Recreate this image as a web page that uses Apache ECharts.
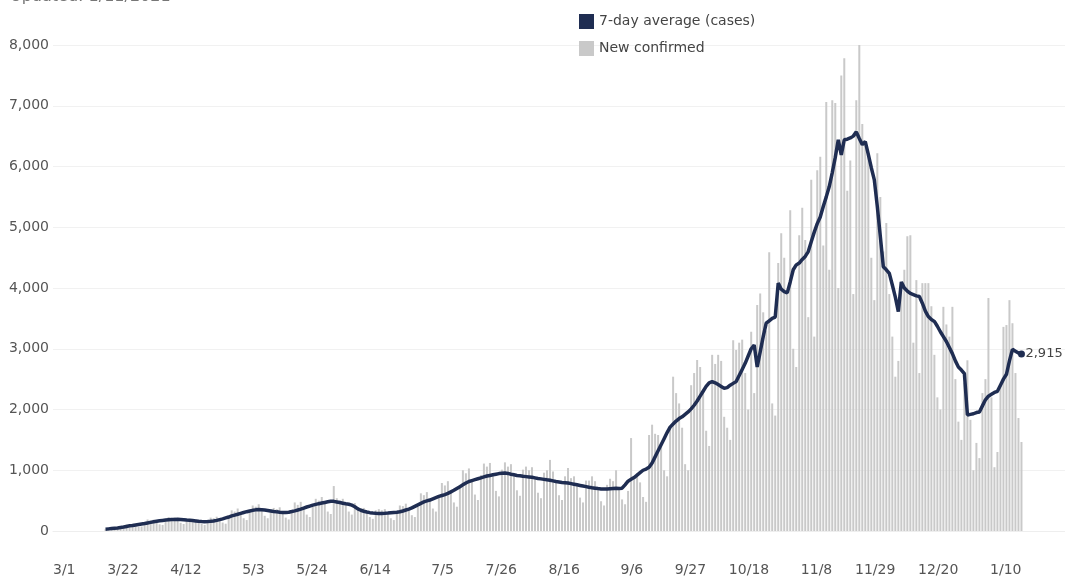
<!DOCTYPE html>
<html>
<head>
<meta charset="utf-8">
<script src="https://cdn.jsdelivr.net/npm/echarts@6/dist/echarts.min.js"></script>
<style>html,body{margin:0;padding:0;background:#fff}#c{width:1065px;height:580px}</style>
</head>
<body>
<div id="c"></div>
<script>
// Axis: daily categories from 2/23/2020; data starts 3/11/2020 and ends 1/10/2021
const axisStart = [2020, 1, 23];
const axisDays = 337;
const dataStartOffset = 17; // 3/11/2020
const firstLabelOffset = 7; // 3/1/2020
const labelEvery = 21;
const yTicks = [0, 1000, 2000, 3000, 4000, 5000, 6000, 7000, 8000];
const updatedText = 'Updated: 1/11/2021';
const lineName = '7-day average (cases)';
const barName = 'New confirmed';

const sevenDayAvg = [
  30,35,40,45,50,58,65,
  75,85,92,100,108,115,122,
  132,142,152,160,168,174,180,
  184,188,190,192,190,186,180,
  176,172,166,160,156,154,156,
  160,166,175,188,200,215,230,
  248,262,275,290,305,318,330,
  340,348,352,350,345,338,330,
  322,315,310,306,305,310,320,
  332,345,360,378,395,410,425,
  438,450,460,470,480,490,488,
  478,468,458,448,440,425,400,
  365,342,325,312,302,296,292,
  290,290,292,295,300,305,310,
  318,330,345,360,380,405,430,
  455,478,495,510,530,550,570,
  585,600,620,645,670,700,730,
  760,790,815,830,845,860,875,
  890,905,915,925,935,945,950,
  955,948,935,925,915,908,900,
  895,890,885,875,865,858,850,
  842,835,825,815,808,800,795,
  790,780,770,760,750,740,730,
  720,712,705,698,692,690,690,
  695,700,702,700,705,760,820,
  850,880,920,960,1000,1020,1050,
  1120,1220,1320,1420,1520,1620,1710,
  1760,1810,1850,1880,1920,1960,2010,
  2070,2140,2220,2300,2380,2440,2460,
  2440,2410,2380,2350,2360,2400,2430,
  2460,2560,2660,2760,2880,3000,3060,
  2700,2950,3200,3420,3460,3500,3520,
  4080,3980,3940,3920,4100,4300,4380,
  4410,4470,4520,4600,4760,4920,5060,
  5170,5340,5500,5670,5900,6150,6440,
  6190,6440,6450,6470,6500,6570,6460,
  6360,6410,6200,5980,5780,5340,4850,
  4350,4300,4240,4050,3850,3610,4100,
  4000,3950,3910,3890,3870,3860,3750,
  3620,3530,3480,3450,3370,3280,3200,
  3120,3020,2920,2800,2700,2650,2590,
  1910,1920,1930,1950,1960,2060,2160,
  2220,2250,2280,2300,2400,2500,2580,
  2800,2990,2960,2930,2915
];

const newConfirmed = [
  30,40,45,50,35,40,75,
  110,105,120,100,70,75,125,
  190,175,185,160,110,100,175,
  230,215,225,190,135,115,200,
  200,185,195,165,115,100,180,
  220,210,235,195,140,120,215,
  340,320,370,300,210,180,320,
  420,400,440,350,250,210,360,
  380,360,390,320,220,190,330,
  470,430,480,390,270,230,400,
  530,500,560,450,320,280,740,
  540,500,530,440,320,270,460,
  390,370,380,320,230,200,340,
  360,340,360,300,210,180,320,
  420,410,450,370,260,230,400,
  620,590,640,520,370,320,560,
  790,750,820,660,470,400,720,
  1000,950,1030,830,600,510,920,
  1110,1060,1120,930,660,570,1010,
  1130,1060,1100,940,670,580,1010,
  1060,1000,1050,880,630,540,960,
  1000,1170,980,820,590,510,900,
  1037,870,900,760,550,470,830,
  830,900,820,690,490,420,760,
  860,820,1000,700,520,440,660,
  1530,900,950,800,560,480,1580,
  1750,1600,1580,1450,1000,900,1700,
  2540,2270,2100,1700,1100,1000,2400,
  2600,2815,2700,2300,1650,1400,2900,
  2750,2900,2800,1880,1700,1500,3140,
  2980,3100,3150,2600,2000,3280,2270,
  3720,3910,3600,3300,4590,2100,1900,
  4410,4900,4500,3900,5280,3000,2700,
  4870,5320,4790,3520,5780,3200,5940,
  6160,4700,7060,4300,7090,7045,4000,
  7500,7780,5600,6100,3900,7090,8000,
  6700,6380,6200,4500,3800,6220,5500,
  4600,5070,3900,3200,2540,2800,4020,
  4300,4850,4870,3100,4130,2600,4080,
  4080,4080,3700,2900,2200,2000,3690,
  3400,3200,3690,2500,1800,1500,2440,
  2810,1830,1000,1450,1200,2270,2500,
  3835,2200,1050,1300,2400,3360,3390,
  3800,3420,2600,1860,1465
];

const categories = [];
for (let k = 0; k < axisDays; k++) {
  const d = new Date(axisStart[0], axisStart[1], axisStart[2] + k);
  categories.push((d.getMonth() + 1) + '/' + d.getDate());
}
const pad = new Array(dataStartOffset).fill(null);
const barData = pad.concat(newConfirmed);
const lastIdx = sevenDayAvg.length - 1;
const lineData = pad.concat(sevenDayAvg.map((v, k) => k === lastIdx
  ? { value: v, symbol: 'circle', symbolSize: 7 }
  : { value: v, symbolSize: 0 }));

const navy = '#1f2d52';
const chart = echarts.init(document.getElementById('c'));
chart.setOption({
  animation: false,
  backgroundColor: '#fff',
  textStyle: { fontFamily: 'DejaVu Sans' },
  graphic: [{
    type: 'text', left: 10, top: -11,
    style: { text: updatedText, fontSize: 16, fill: '#777', fontFamily: 'DejaVu Sans' }
  }],
  legend: {
    orient: 'vertical', left: 574, top: 9, itemGap: 12,
    itemWidth: 15, itemHeight: 15,
    textStyle: { fontSize: 14, color: '#444' },
    data: [{ name: lineName, icon: 'rect' }, { name: barName, icon: 'rect' }]
  },
  grid: { left: 53, right: 0, top: 45, bottom: 49, containLabel: false },
  xAxis: {
    type: 'category', data: categories, boundaryGap: true,
    axisLine: { show: true, lineStyle: { color: '#eeeeee' } },
    axisTick: { show: false },
    axisLabel: {
      margin: 32, fontSize: 14, color: '#555', align: 'right',
      interval: (idx) => idx >= firstLabelOffset && (idx - firstLabelOffset) % labelEvery === 0
    },
    splitLine: { show: false }
  },
  yAxis: {
    type: 'value', min: yTicks[0], max: yTicks[yTicks.length - 1], interval: yTicks[1] - yTicks[0],
    axisLine: { show: false }, axisTick: { show: false },
    axisLabel: { margin: 4, fontSize: 14, color: '#555', formatter: (v) => v.toLocaleString('en-US') },
    splitLine: { lineStyle: { color: '#f1f1f1' } }
  },
  series: [
    {
      name: barName, type: 'bar', data: barData, barWidth: 2,
      itemStyle: { color: '#c9c9c9' }, z: 1
    },
    {
      name: lineName, type: 'line', data: lineData,
      showAllSymbol: true, symbol: 'circle',
      lineStyle: { color: navy, width: 3.5 }, itemStyle: { color: navy },
      endLabel: { show: true, formatter: (p) => Number(p.value).toLocaleString('en-US'), fontSize: 13, color: '#444', distance: 4 },
      z: 3
    }
  ]
});
</script>
</body>
</html>
